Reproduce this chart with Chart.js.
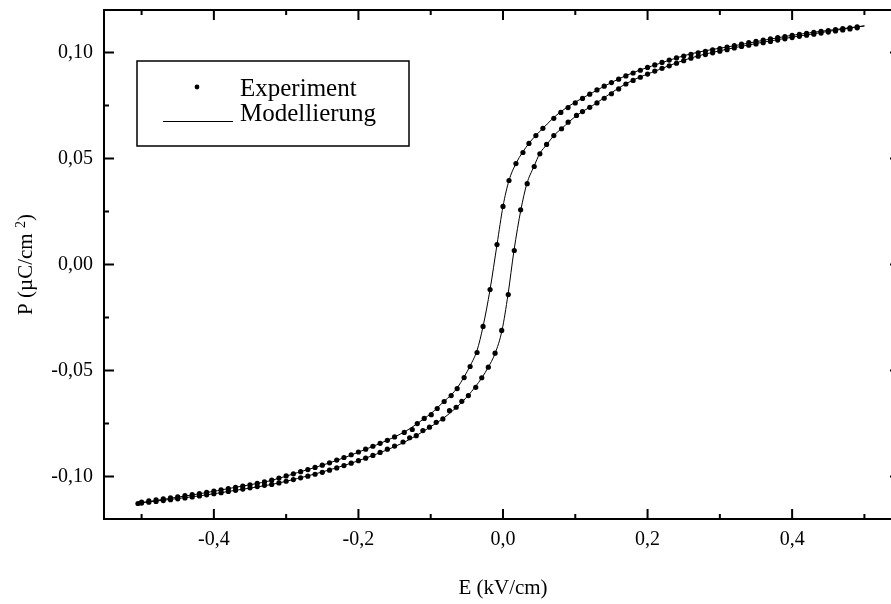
<!DOCTYPE html>
<html>
<head>
<meta charset="utf-8">
<script src="https://cdn.jsdelivr.net/npm/chart.js@4"></script>
<style>
html,body{margin:0;padding:0;background:#fff;overflow:hidden;width:891px;height:604px;}
canvas{display:block;}
</style>
</head>
<body>
<canvas id="c" width="891" height="604"></canvas>
<script>
// ---- data ----
const expUpperE = [0.49,0.48,0.47,0.46,0.45,0.44,0.43,0.42,0.41,0.40,0.39,0.38,0.37,0.36,0.35,0.34,0.33,0.32,0.31,0.30,0.29,0.28,0.27,0.26,0.25,0.24,0.23,0.22,0.21,0.20,0.19,0.18,0.17,0.16,0.15,0.14,0.13,0.12,0.11,0.10,0.09,0.08,
  0.0703,0.0552,0.0455,0.0359,0.0276,0.0179,0.0083,0.0,-0.0083,-0.0179,-0.0276,-0.0359,-0.0455,-0.0538,-0.0634,-0.0717,-0.0814,-0.0910,-0.0993,-0.109,-0.1186,-0.1255,-0.1366,
  -0.15,-0.16,-0.17,-0.18,-0.19,-0.20,-0.21,-0.22,-0.23,-0.24,-0.25,-0.26,-0.27,-0.28,-0.29,-0.30,-0.31,-0.32,-0.33,-0.34,-0.35,-0.36,-0.37,-0.38,-0.39,-0.40,-0.41,-0.42,-0.43,-0.44,-0.45,-0.46,-0.47,-0.48,-0.49,-0.50];
const expUpperP = [0.1120,0.1116,0.1112,0.1108,0.1103,0.1099,0.1095,0.1090,0.1085,0.1080,0.1075,0.1070,0.1064,0.1058,0.1052,0.1046,0.1039,0.1032,0.1025,0.1018,0.1012,0.1005,0.0998,0.0991,0.0983,0.0974,0.0964,0.0953,0.0941,0.0929,0.0916,0.0903,0.0889,0.0874,0.0858,0.0841,0.0823,0.0803,0.0783,0.0762,0.0740,0.0717,
  0.0689,0.0642,0.0608,0.0571,0.0528,0.0476,0.0396,0.0274,0.0094,-0.0118,-0.0292,-0.0415,-0.0481,-0.0533,-0.0585,-0.0618,-0.0646,-0.0679,-0.0708,-0.0726,-0.0750,-0.0778,-0.0792,
  -0.0813,-0.0829,-0.0843,-0.0857,-0.0871,-0.0884,-0.0897,-0.0910,-0.0922,-0.0935,-0.0946,-0.0957,-0.0967,-0.0977,-0.0987,-0.0997,-0.1007,-0.1017,-0.1025,-0.1032,-0.1039,-0.1045,-0.1051,-0.1057,-0.1062,-0.1068,-0.1074,-0.1080,-0.1085,-0.1090,-0.1095,-0.1100,-0.1105,-0.1110,-0.1115,-0.1120];

const expLowerE = [-0.505,-0.50,-0.49,-0.48,-0.47,-0.46,-0.45,-0.44,-0.43,-0.42,-0.41,-0.40,-0.39,-0.38,-0.37,-0.36,-0.35,-0.34,-0.33,-0.32,-0.31,-0.30,-0.29,-0.28,-0.27,-0.26,-0.25,-0.24,-0.23,-0.22,-0.21,-0.20,-0.19,-0.18,-0.17,-0.16,-0.15,
  -0.1383,-0.1292,-0.1200,-0.1108,-0.1017,-0.0924,-0.0832,-0.0741,-0.0648,-0.0570,-0.0479,-0.0377,-0.0294,-0.0203,-0.0110,-0.0018,0.0073,0.0156,0.0244,0.0335,0.0432,0.0510,0.0603,0.0703,0.0810,0.0901,0.1017,
  0.11,0.12,0.13,0.14,0.15,0.16,0.17,0.18,0.19,0.20,0.21,0.22,0.23,0.24,0.25,0.26,0.27,0.28,0.29,0.30,0.31,0.32,0.33,0.34,0.35,0.36,0.37,0.38,0.39,0.40,0.41,0.42,0.43,0.44,0.45,0.46,0.47,0.48,0.49];
const expLowerP = [-0.1127,-0.1125,-0.1121,-0.1117,-0.1113,-0.1109,-0.1105,-0.1101,-0.1096,-0.1091,-0.1086,-0.1081,-0.1076,-0.1070,-0.1065,-0.1059,-0.1053,-0.1047,-0.1041,-0.1037,-0.1030,-0.1022,-0.1014,-0.1006,-0.0998,-0.0989,-0.0980,-0.0970,-0.0959,-0.0948,-0.0937,-0.0925,-0.0913,-0.0900,-0.0886,-0.0871,-0.0856,
  -0.0837,-0.0817,-0.0807,-0.0783,-0.0767,-0.0744,-0.0728,-0.0689,-0.0673,-0.0645,-0.0618,-0.0579,-0.0534,-0.0484,-0.0418,-0.0311,-0.0142,0.0066,0.0258,0.0381,0.0462,0.0522,0.0566,0.0608,0.0640,0.0671,0.0703,
  0.0721,0.0741,0.0762,0.0784,0.0805,0.0828,0.0851,0.0868,0.0883,0.0898,0.0912,0.0925,0.0937,0.0949,0.0961,0.0973,0.0982,0.0990,0.0998,0.1006,0.1013,0.1021,0.1028,0.1034,0.1040,0.1046,0.1052,0.1058,0.1064,0.1070,0.1076,0.1081,0.1086,0.1091,0.1096,0.1101,0.1106,0.1111,0.1116];

const modelUpperE = [0.50,0.3986,0.3228,0.2621,0.2166,0.1710,0.1241,0.0786,0.0552,0.0359,0.0179,0.0083,0.0,-0.0083,-0.0179,-0.0276,-0.0359,-0.0455,-0.0538,-0.0634,-0.0717,-0.0814,-0.0910,-0.0993,-0.109,-0.1186,-0.1366,-0.1876,-0.2386,-0.2841,-0.3214,-0.3724,-0.4179,-0.5048];
const modelUpperP = [0.1125,0.1080,0.1033,0.0995,0.0948,0.0892,0.0811,0.0717,0.0642,0.0571,0.0476,0.0396,0.0274,0.0094,-0.0118,-0.0292,-0.0405,-0.0478,-0.0530,-0.0582,-0.0615,-0.0645,-0.0676,-0.0702,-0.0726,-0.0750,-0.0790,-0.0868,-0.0934,-0.0981,-0.1019,-0.1052,-0.1080,-0.1125];
const modelLowerE = [-0.5048,-0.4179,-0.3724,-0.3214,-0.2841,-0.2386,-0.1876,-0.1379,-0.1200,-0.1021,-0.0828,-0.0648,-0.0483,-0.0290,-0.0207,-0.0110,-0.0014,0.0069,0.0152,0.0248,0.0331,0.0428,0.0510,0.0607,0.0703,0.0814,0.1021,0.1241,0.1710,0.2166,0.2621,0.3228,0.3986,0.50];
const modelLowerP = [-0.1125,-0.1090,-0.1066,-0.1038,-0.1009,-0.0967,-0.0910,-0.0840,-0.0807,-0.0769,-0.0726,-0.0675,-0.0618,-0.0533,-0.0486,-0.0420,-0.0311,-0.0142,0.0066,0.0259,0.0382,0.0462,0.0524,0.0566,0.0608,0.0642,0.0703,0.0750,0.0854,0.0920,0.0976,0.1024,0.1071,0.1125];

const xTicks = [-0.4,-0.2,0.0,0.2,0.4];
const xMinorTicks = [-0.5,-0.3,-0.1,0.1,0.3,0.5];
const yTicks = [-0.10,-0.05,0.00,0.05,0.10];
const yMinorTicks = [-0.075,-0.025,0.025,0.075];
const xTitle = 'E (kV/cm)';
const legendLabels = ['Experiment','Modellierung'];

// ---- build chart ----
const zip = (a,b) => a.map((v,i)=>({x:v,y:b[i]}));
const SERIF = '"Liberation Serif", "Times New Roman", serif';
const AREA = {left:104, top:10, right:902, bottom:519};

const areaPlugin = {
  id:'area',
  afterLayout(chart){
    const a = chart.chartArea;
    Object.assign(a, AREA);
    a.width = AREA.right-AREA.left; a.height = AREA.bottom-AREA.top;
    const xs = chart.scales.x, ys = chart.scales.y;
    xs.left = AREA.left; xs.right = AREA.right; xs.width = a.width;
    xs.top = AREA.bottom; xs.bottom = 604; xs.height = 604-AREA.bottom;
    xs.configure();
    ys.left = 0; ys.right = AREA.left; ys.width = AREA.left;
    ys.top = AREA.top; ys.bottom = AREA.bottom; ys.height = a.height;
    ys.configure();
  }
};

const framePlugin = {
  id:'frame',
  afterDraw(chart){
    const ctx = chart.ctx, a = chart.chartArea;
    const xs = chart.scales.x, ys = chart.scales.y;
    ctx.save();
    ctx.strokeStyle = '#000';
    ctx.lineWidth = 2;
    ctx.beginPath();
    ctx.rect(a.left, a.top, a.right-a.left, a.bottom-a.top);
    ctx.stroke();
    const tick = (vals, len) => {
      vals.forEach(v=>{
        const px = xs.getPixelForValue(v);
        ctx.beginPath();
        ctx.moveTo(px, a.bottom); ctx.lineTo(px, a.bottom-len);
        ctx.moveTo(px, a.top); ctx.lineTo(px, a.top+len);
        ctx.stroke();
      });
    };
    const tickY = (vals, len) => {
      vals.forEach(v=>{
        const py = ys.getPixelForValue(v);
        ctx.beginPath();
        ctx.moveTo(a.left, py); ctx.lineTo(a.left+len, py);
        ctx.moveTo(a.right, py); ctx.lineTo(a.right-len-2, py);
        ctx.stroke();
      });
    };
    tick(xTicks, 10); tick(xMinorTicks, 5);
    tickY(yTicks, 10); tickY(yMinorTicks, 5);

    // axis titles
    ctx.fillStyle = '#000';
    ctx.font = '21px ' + SERIF;
    ctx.textAlign = 'center';
    ctx.textBaseline = 'middle';
    ctx.fillText(xTitle, (a.left+a.right)/2, 588);

    ctx.save();
    ctx.translate(25, (a.top+a.bottom)/2);
    ctx.rotate(-Math.PI/2);
    const p1 = 'P (\u00B5C/cm ', p2 = '2', p3 = ')';
    ctx.font = '21px ' + SERIF;
    const w1 = ctx.measureText(p1).width, w3 = ctx.measureText(p3).width;
    ctx.font = '14px ' + SERIF;
    const w2 = ctx.measureText(p2).width;
    const x0 = -(w1+w2+w3)/2;
    ctx.textAlign = 'left';
    ctx.textBaseline = 'alphabetic';
    ctx.font = '21px ' + SERIF;
    ctx.fillText(p1, x0, 7);
    ctx.font = '14px ' + SERIF;
    ctx.fillText(p2, x0+w1, 0);
    ctx.font = '21px ' + SERIF;
    ctx.fillText(p3, x0+w1+w2, 7);
    ctx.restore();

    // legend
    ctx.lineWidth = 1.5;
    ctx.strokeRect(137, 61, 272, 85);
    ctx.beginPath();
    ctx.arc(197, 87, 2.4, 0, Math.PI*2);
    ctx.fill();
    ctx.lineWidth = 1;
    ctx.beginPath();
    ctx.moveTo(163, 121.5); ctx.lineTo(233, 121.5);
    ctx.stroke();
    ctx.font = '25px ' + SERIF;
    ctx.textAlign = 'left';
    ctx.textBaseline = 'alphabetic';
    ctx.fillText(legendLabels[0], 240, 96);
    ctx.fillText(legendLabels[1], 240, 121);
    ctx.restore();
  }
};

new Chart(document.getElementById('c'), {
  type:'scatter',
  data:{
    datasets:[
      {label:'Modellierung', data:zip(modelUpperE, modelUpperP), showLine:true, borderColor:'#000', borderWidth:1, pointRadius:0, cubicInterpolationMode:'monotone', fill:false},
      {label:'Modellierung', data:zip(modelLowerE, modelLowerP), showLine:true, borderColor:'#000', borderWidth:1, pointRadius:0, cubicInterpolationMode:'monotone', fill:false},
      {label:'Experiment', data:zip(expUpperE, expUpperP), showLine:false, pointRadius:2.6, pointBackgroundColor:'#000', pointBorderWidth:0, backgroundColor:'#000', borderColor:'#000'},
      {label:'Experiment', data:zip(expLowerE, expLowerP), showLine:false, pointRadius:2.6, pointBackgroundColor:'#000', pointBorderWidth:0, backgroundColor:'#000', borderColor:'#000'}
    ]
  },
  options:{
    responsive:false,
    animation:false,
    devicePixelRatio:1,
    layout:{padding:{left:0, top:10, right:0, bottom:0}},
    plugins:{legend:{display:false}, tooltip:{enabled:false}},
    scales:{
      x:{
        type:'linear', min:-0.552, max:0.552,
        afterBuildTicks:(s)=>{ s.ticks = xTicks.map(v=>({value:v})); },
        afterFit:(s)=>{ s.height = 85; },
        grid:{display:false, drawTicks:false},
        border:{display:false},
        ticks:{padding:9, color:'#000', font:{family:SERIF, size:20}, maxRotation:0,
          callback:(v)=> v.toFixed(1).replace('.',',').replace('-0,0','0,0')}
      },
      y:{
        type:'linear', min:-0.12, max:0.12,
        afterBuildTicks:(s)=>{ s.ticks = yTicks.map(v=>({value:v})); },
        afterFit:(s)=>{ s.width = 104; },
        grid:{display:false, drawTicks:false},
        border:{display:false},
        ticks:{padding:11, color:'#000', font:{family:SERIF, size:20},
          callback:(v)=> v.toFixed(2).replace('.',',').replace('-0,00','0,00')}
      }
    }
  },
  plugins:[areaPlugin, framePlugin]
});
</script>
</body>
</html>
